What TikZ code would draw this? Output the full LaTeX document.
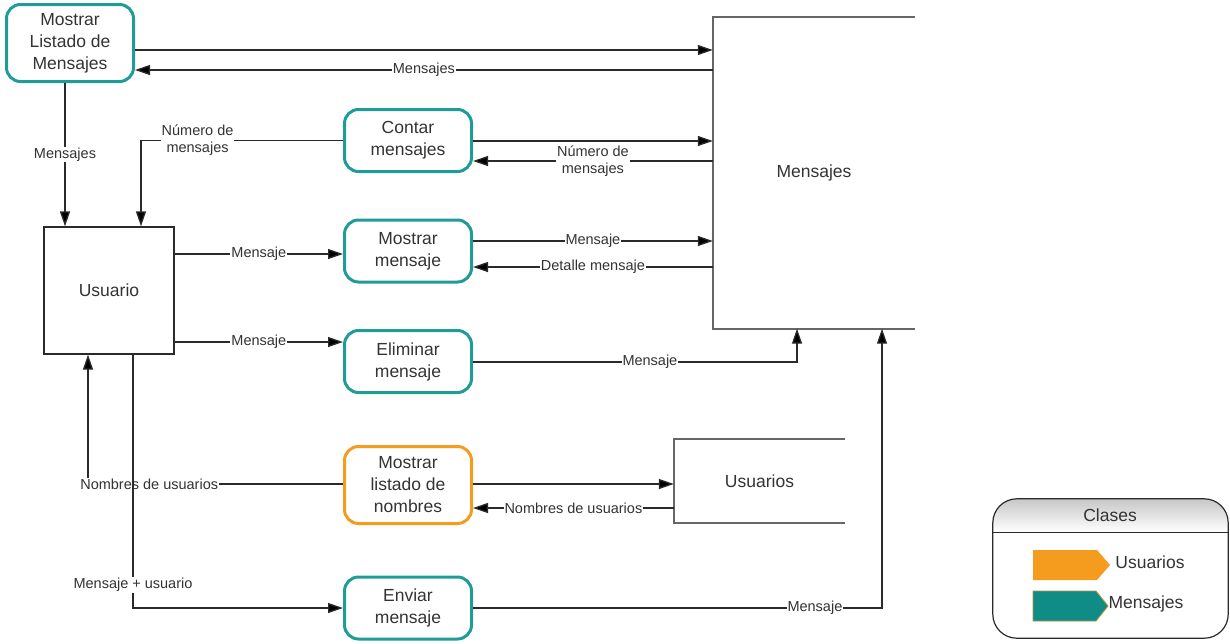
\documentclass[tikz,border=0pt]{standalone}
\usepackage{fontspec}
\setmainfont{Liberation Sans}
\usetikzlibrary{arrows.meta}
\definecolor{tealc}{HTML}{1F9C97}
\definecolor{tealf}{HTML}{0F8C86}
\definecolor{orng}{HTML}{F59B1E}
\definecolor{ink}{HTML}{333333}
\definecolor{wire}{HTML}{2A2A2A}
\definecolor{storec}{HTML}{666666}
\newcommand\procfont{\fontsize{17.5}{22}\selectfont}
\newcommand\lblfont{\fontsize{14.5}{17}\selectfont}
\begin{document}
\begin{tikzpicture}[x=1pt,y=-1pt,
  proc/.style={draw=tealc, line width=3pt, rounded corners=14pt, minimum width=127pt,
    minimum height=62pt, align=center, font=\procfont, text=ink, inner sep=2pt},
  procor/.style={proc, draw=orng},
  entity/.style={draw=wire, line width=1.3pt, minimum width=130pt, minimum height=127pt,
    font=\procfont, text=ink},
  store/.style={minimum width=202pt, minimum height=311pt, font=\procfont, text=ink},
  storeline/.style={draw=storec, line width=2pt},
  flow/.style={draw=wire, line width=1.3pt, -{Triangle[length=15pt,width=10pt,fill=black]}},
  lbl/.style={font=\lblfont, text=ink, fill=white, inner sep=1pt, align=center},
  legtxt/.style={font=\procfont, text=ink}]
\useasboundingbox (0,0) rectangle (1230,643);

% processes
\node[proc, minimum height=77pt] (ml) at (70,43) {Mostrar\\Listado de\\Mensajes};
\node[proc] (ct) at (408,140.5) {Contar\\mensajes};
\node[proc] (mm) at (408,251) {Mostrar\\mensaje};
\node[proc] (el) at (408,361.5) {Eliminar\\mensaje};
\node[procor, minimum height=77pt] (ln) at (408,485) {Mostrar\\listado de\\nombres};
\node[proc] (ev) at (408,608) {Enviar\\mensaje};

% external entity
\node[entity] (us) at (109,290.5) {Usuario};

% data stores (open on the right)
\node[store] (ms) at (814,173) {Mensajes};
\draw[storeline] (ms.north east) -- (ms.north west) -- (ms.south west) -- (ms.south east);
\node[store, minimum width=171pt, minimum height=84pt] (ust) at (759.5,481) {Usuarios};
\draw[storeline] (ust.north east) -- (ust.north west) -- (ust.south west) -- (ust.south east);

% flows: listado de mensajes
\draw[flow] (ml.east |- 0,50) -- (ms.west |- 0,50);
\draw[flow] (ms.west |- 0,70) -- node[lbl] {Mensajes} (ml.east |- 0,70);
\draw[flow] ([xshift=-5pt]ml.south) -- node[lbl] {Mensajes} ([xshift=-5pt]ml.south |- us.north);

% flows: contar mensajes
\draw[flow] (ct.east |- 0,141) -- (ms.west |- 0,141);
\draw[flow] (ms.west |- 0,161) -- node[lbl] {Número de\\mensajes} (ct.east |- 0,161);
\draw[flow] (ct.west) -| node[lbl, pos=0.36] {Número de\\mensajes} ([xshift=32pt]us.north);

% flows: mostrar mensaje
\draw[flow] (us.east |- 0,254) -- node[lbl] {Mensaje} (mm.west |- 0,254);
\draw[flow] (mm.east |- 0,241) -- node[lbl] {Mensaje} (ms.west |- 0,241);
\draw[flow] (ms.west |- 0,267) -- node[lbl] {Detalle mensaje} (mm.east |- 0,267);

% flows: eliminar mensaje
\draw[flow] (us.east |- 0,342) -- node[lbl] {Mensaje} (el.west |- 0,342);
\draw[flow] (el.east |- 0,362) -| node[lbl, pos=0.273] {Mensaje} ([xshift=-17pt]ms.south);

% flows: listado de nombres
\draw[flow] (ln.east |- 0,484) -- (ust.west |- 0,484);
\draw[flow] (ust.west |- 0,508) -- node[lbl] {Nombres de usuarios} (ln.east |- 0,508);
\draw[flow] (ln.west |- 0,484) -| node[lbl, pos=0.38] {Nombres de usuarios} ([xshift=-21pt]us.south);

% flows: enviar mensaje
\draw[flow] ([xshift=24pt]us.south) |- node[lbl, pos=0.455] {Mensaje + usuario} (ev.west);
\draw[flow] (ev.east) -| node[lbl, pos=0.418] {Mensaje} ([xshift=68pt]ms.south);

% legend
\node[minimum width=235pt, minimum height=139pt, inner sep=0pt] (lg) at (1110.5,568.5) {};
\begin{scope}
  \clip[rounded corners=24pt] (lg.north west) rectangle (lg.south east);
  \shade[top color=black!22, bottom color=white] (lg.north west) rectangle (lg.east |- 0,532);
\end{scope}
\draw[draw=wire, line width=1.2pt, rounded corners=24pt] (lg.north west) rectangle (lg.south east);
\draw[draw=wire, line width=1pt] (lg.west |- 0,532) -- (lg.east |- 0,532);
\node[legtxt] (lgt) at (1110,515) {Clases};
\fill[orng] (1033,550) -- (1097,550) -- (1110,565) -- (1097,580) -- (1033,580) -- cycle;
\node[legtxt] (lgu) at (1150,562) {Usuarios};
\filldraw[fill=tealf, draw=orng!70!tealf, line width=0.8pt] (1033,591) -- (1096,591) -- (1108,606) -- (1096,621) -- (1033,621) -- cycle;
\node[legtxt] (lgm) at (1146,604) {Mensajes};
\end{tikzpicture}
\end{document}
